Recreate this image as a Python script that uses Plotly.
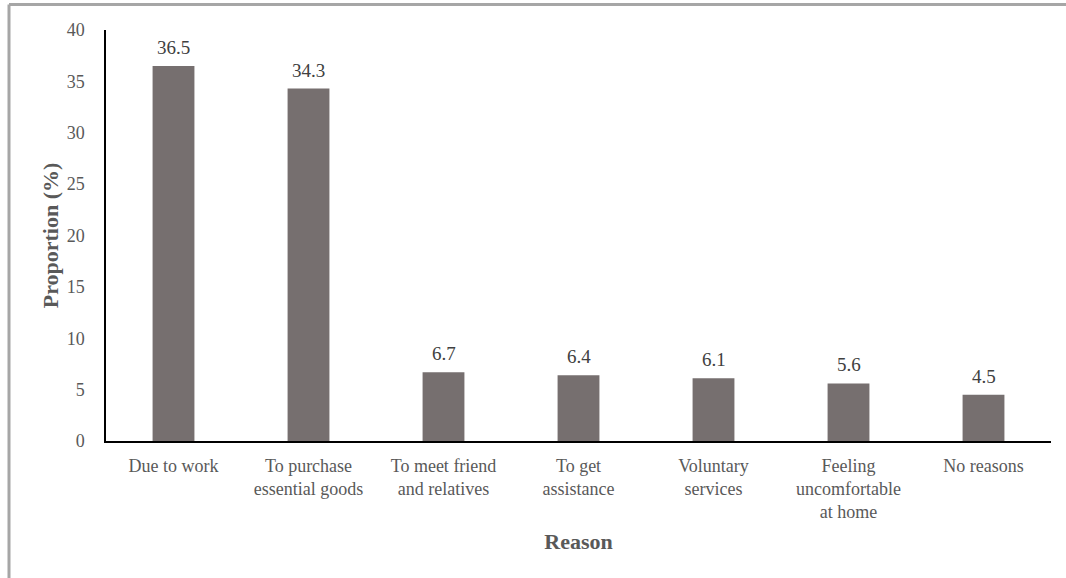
import plotly.graph_objects as go

reasons = [
    "Due to work",
    "To purchase<br>essential goods",
    "To meet friend<br>and relatives",
    "To get<br>assistance",
    "Voluntary<br>services",
    "Feeling<br>uncomfortable<br>at home",
    "No reasons",
]
proportions = [36.5, 34.3, 6.7, 6.4, 6.1, 5.6, 4.5]
y_ticks = [0, 5, 10, 15, 20, 25, 30, 35, 40]

W, H = 1066, 578
ML, MR, MT, MB = 106, 15, 30, 137
pw, ph = W - ML - MR, H - MT - MB


def px_x(x):
    return (x - ML) / pw


def px_y(y):
    return (H - MB - y) / ph


SERIF = "Liberation Serif"

fig = go.Figure(
    go.Bar(
        x=reasons,
        y=proportions,
        marker=dict(color="#766F6F", line=dict(width=0)),
        width=0.31,
    )
)

# value labels above each bar
for r, v in zip(reasons, proportions):
    fig.add_annotation(
        x=r, y=v, text=f"{v:.1f}", showarrow=False,
        xanchor="center", yanchor="bottom", yshift=6,
        font=dict(family=SERIF, size=19, color="#404040"),
    )

# frame around the figure (top and left edges)
border = dict(color="#A6A6A6", width=3)
fig.add_shape(type="line", xref="paper", yref="paper",
              x0=px_x(9), x1=px_x(W + 5), y0=px_y(4.5), y1=px_y(4.5), line=border)
fig.add_shape(type="line", xref="paper", yref="paper",
              x0=px_x(9), x1=px_x(9), y0=px_y(4.5), y1=px_y(H + 5), line=border)

fig.update_layout(
    width=W,
    height=H,
    margin=dict(l=ML, r=MR, t=MT, b=MB),
    paper_bgcolor="white",
    plot_bgcolor="white",
    showlegend=False,
    font=dict(family=SERIF, size=18, color="#595959"),
    xaxis=dict(
        showline=True,
        linecolor="black",
        linewidth=2,
        ticks="",
        ticklabelstandoff=7,
        tickfont=dict(family=SERIF, size=18, color="#595959"),
        title=dict(text="<b>Reason</b>", font=dict(family=SERIF, size=22, color="#595959"), standoff=12),
        showgrid=False,
    ),
    yaxis=dict(
        range=[0, 40],
        tickvals=y_ticks,
        showline=True,
        linecolor="black",
        linewidth=1.5,
        ticks="",
        ticklabelstandoff=16,
        tickfont=dict(family=SERIF, size=18, color="#595959"),
        title=dict(text="<b>Proportion (%)</b>", font=dict(family=SERIF, size=22, color="#595959"), standoff=2),
        showgrid=False,
        zeroline=False,
    ),
)

fig.write_html("out.html")
